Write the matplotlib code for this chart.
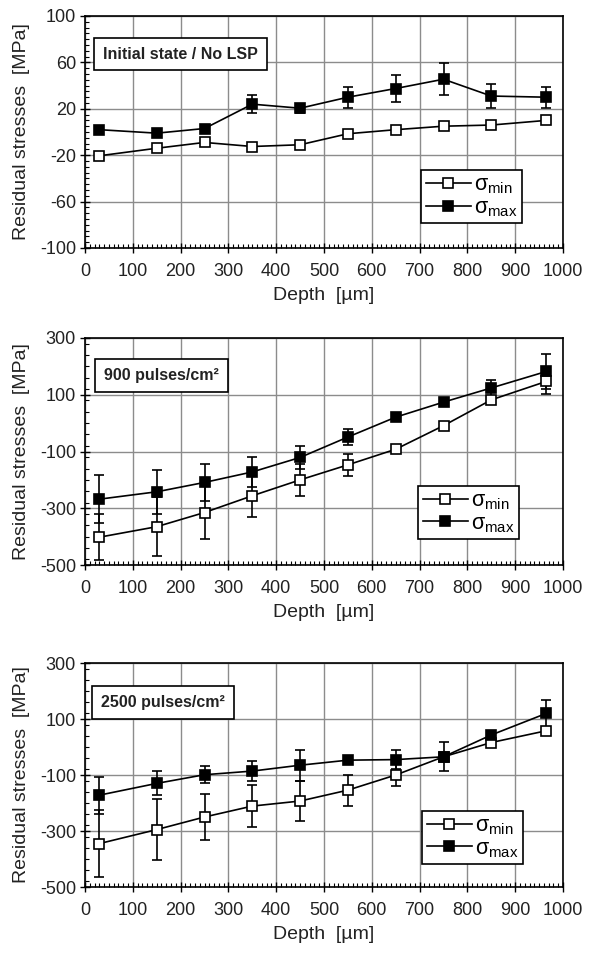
import matplotlib
matplotlib.use("Agg")
import matplotlib.pyplot as plt
from matplotlib.ticker import MultipleLocator

plt.rcParams['font.family'] = ['Liberation Sans', 'DejaVu Sans']
plt.rcParams['axes.unicode_minus'] = False
plt.rcParams['mathtext.fontset'] = 'custom'
plt.rcParams['mathtext.rm'] = 'Liberation Sans'
plt.rcParams['mathtext.it'] = 'Liberation Sans'

depth = [30, 150, 250, 350, 450, 550, 650, 750, 850, 965]

# Panel 1: Initial state / No LSP
p1_min = [-20.5, -14, -9, -12.5, -11, -1.5, 2, 5, 6, 10]
p1_min_err = [3, 3, 2, 2, 2, 3, 2, 2, 2, 3]
p1_max = [2, -1, 3, 24, 20.5, 30, 37.5, 45.5, 31, 30]
p1_max_err = [2, 2, 2, 8, 4, 9, 11.5, 14, 10, 9]

# Panel 2: 900 pulses/cm2
p2_min = [-402, -365, -315, -256, -200, -147, -92, -9, 82, 147]
p2_min_err = [80, 105, 93, 76, 56, 39, 12, 8, 10, 43]
p2_max = [-268, -242, -209, -172, -121, -49, 21, 74, 124, 182]
p2_max_err = [85, 78, 64, 52, 39, 29, 15, 10, 28, 60]

# Panel 3: 2500 pulses/cm2
p3_min = [-345, -295, -250, -211, -193, -154, -100, -35, 16, 58]
p3_min_err = [120, 108, 82, 74, 70, 55, 40, 10, 8, 15]
p3_max = [-172, -130, -99, -86, -65, -47, -45, -35, 43, 120]
p3_max_err = [66, 43, 31, 37, 55, 5, 35, 52, 8, 48]

titles = ["Initial state / No LSP", "900 pulses/cm\u00b2", "2500 pulses/cm\u00b2"]
ylims = [(-100, 100), (-500, 300), (-500, 300)]
ymajor = [40, 200, 200]
yminor = [5, 40, 40]

panels = [(p1_min, p1_min_err, p1_max, p1_max_err),
          (p2_min, p2_min_err, p2_max, p2_max_err),
          (p3_min, p3_min_err, p3_max, p3_max_err)]

fig = plt.figure(figsize=(5.91, 9.56), dpi=100)
W, H = 591, 956
boxes = [(16, 248), (338, 565), (663, 887)]
leg_anchor = [(0.914, 0.108), (0.908, 0.115), (0.916, 0.103)]
title_y = [0.836, 0.835, 0.824]
title_x = [0.038, 0.040, 0.034]

for i, (top, bot) in enumerate(boxes):
    ax = fig.add_axes([85 / W, 1 - bot / H, 478 / W, (bot - top) / H])
    mn, mne, mx, mxe = panels[i]
    c1 = ax.errorbar(depth, mn, yerr=mne, color='black', marker='s', ms=7,
                     mfc='white', mec='black', mew=1.2, lw=1.2, capsize=3.5,
                     elinewidth=1.2, capthick=1.2, zorder=3)
    c2 = ax.errorbar(depth, mx, yerr=mxe, color='black', marker='s', ms=7,
                     mfc='black', mec='black', mew=1.2, lw=1.2, capsize=3.5,
                     elinewidth=1.2, capthick=1.2, zorder=3)
    ax.set_xlim(0, 1000)
    ax.set_ylim(*ylims[i])
    ax.xaxis.set_major_locator(MultipleLocator(100))
    ax.xaxis.set_minor_locator(MultipleLocator(10))
    ax.yaxis.set_minor_locator(MultipleLocator(yminor[i]))
    lo, hi = ylims[i]
    ax.set_yticks(list(range(lo, hi + 1, ymajor[i])))
    ax.grid(True, which='major', color='#8c8c8c', lw=1.0, zorder=0)
    ax.tick_params(which='major', direction='inout', length=7, width=1,
                   labelsize=13, labelcolor='#222222')
    ax.tick_params(axis='x', which='major', pad=7)
    ax.tick_params(axis='y', which='major', pad=3)
    ax.tick_params(which='minor', direction='in', length=3, width=0.8)
    for s in ax.spines.values():
        s.set_linewidth(1.2)
    ax.set_xlabel('Depth  [\u00b5m]', fontsize=14, labelpad=5, color='#222222')
    ax.set_ylabel('Residual stresses  [MPa]', fontsize=14, labelpad=7, color='#222222')
    ax.text(title_x[i], title_y[i], titles[i], transform=ax.transAxes,
            fontsize=11.5, fontweight='bold', va='center', ha='left', color='#222222',
            bbox=dict(boxstyle='square,pad=0.55', fc='white', ec='black', lw=1.2),
            zorder=5)
    leg = ax.legend(handles=[c1.lines[0], c2.lines[0]],
                    labels=[r'$\sigma_{\mathrm{min}}$', r'$\sigma_{\mathrm{max}}$'],
                    loc='lower right', bbox_to_anchor=leg_anchor[i],
                    fontsize=15.5, frameon=True, fancybox=False, framealpha=1,
                    edgecolor='black', handlelength=2.1, handletextpad=0.15,
                    borderpad=0.2, labelspacing=0.05, borderaxespad=0)
    leg.get_frame().set_linewidth(1.2)

fig.savefig('out.png', dpi=100)
